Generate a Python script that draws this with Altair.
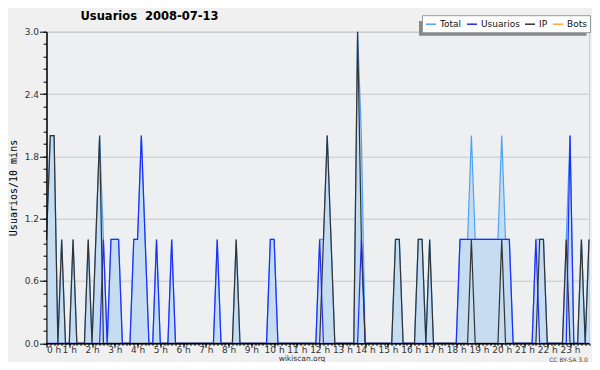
import altair as alt
import pandas as pd

# ---- data (10-minute bins, 0..143) ----
series_names = ["Total", "Usuarios", "IP", "Bots"]
series_colors = ["#4da3f5", "#1f2dff", "#333333", "#ffa633"]

total = [
    1, 2, 2, 0, 1, 0, 0, 1, 0, 0, 0, 1,
    0, 1, 2, 1, 0, 1, 1, 1, 0, 0, 0, 1,
    1, 2, 1, 0, 0, 1, 0, 0, 0, 1, 0, 0,
    0, 0, 0, 0, 0, 0, 0, 0, 0, 1, 0, 0,
    0, 0, 1, 0, 0, 0, 0, 0, 0, 0, 0, 1,
    1, 0, 0, 0, 0, 0, 0, 0, 0, 0, 0, 0,
    1, 1, 2, 1, 0, 0, 0, 0, 0, 0, 3, 2,
    0, 0, 0, 0, 0, 0, 0, 0, 1, 1, 0, 0,
    0, 0, 1, 1, 0, 1, 0, 0, 0, 0, 0, 0,
    0, 1, 1, 1, 2, 1, 1, 1, 1, 1, 1, 1,
    2, 1, 1, 0, 0, 0, 0, 0, 0, 1, 1, 1,
    0, 0, 0, 0, 0, 1, 2, 0, 0, 1, 0, 1,
]
usuarios = [
    0, 0, 0, 0, 0, 0, 0, 0, 0, 0, 0, 0,
    0, 0, 0, 1, 0, 1, 1, 1, 0, 0, 0, 1,
    1, 2, 1, 0, 0, 1, 0, 0, 0, 1, 0, 0,
    0, 0, 0, 0, 0, 0, 0, 0, 0, 1, 0, 0,
    0, 0, 0, 0, 0, 0, 0, 0, 0, 0, 0, 1,
    1, 0, 0, 0, 0, 0, 0, 0, 0, 0, 0, 0,
    1, 0, 0, 0, 0, 0, 0, 0, 0, 0, 0, 1,
    0, 0, 0, 0, 0, 0, 0, 0, 0, 0, 0, 0,
    0, 0, 0, 0, 0, 0, 0, 0, 0, 0, 0, 0,
    0, 1, 1, 1, 1, 1, 1, 1, 1, 1, 1, 1,
    1, 1, 1, 0, 0, 0, 0, 0, 0, 1, 0, 0,
    0, 0, 0, 0, 0, 0, 2, 0, 0, 0, 0, 0,
]
ip = [
    1, 2, 2, 0, 1, 0, 0, 1, 0, 0, 0, 1,
    0, 1, 2, 0, 0, 0, 0, 0, 0, 0, 0, 0,
    0, 0, 0, 0, 0, 0, 0, 0, 0, 0, 0, 0,
    0, 0, 0, 0, 0, 0, 0, 0, 0, 0, 0, 0,
    0, 0, 1, 0, 0, 0, 0, 0, 0, 0, 0, 0,
    0, 0, 0, 0, 0, 0, 0, 0, 0, 0, 0, 0,
    0, 1, 2, 1, 0, 0, 0, 0, 0, 0, 3, 1,
    0, 0, 0, 0, 0, 0, 0, 0, 1, 1, 0, 0,
    0, 0, 1, 1, 0, 1, 0, 0, 0, 0, 0, 0,
    0, 0, 0, 0, 1, 0, 0, 0, 0, 0, 0, 0,
    1, 0, 0, 0, 0, 0, 0, 0, 0, 0, 1, 1,
    0, 0, 0, 0, 0, 1, 0, 0, 0, 1, 0, 1,
]
bots = [0] * 144

bins = list(range(144))
hour_bins = list(range(0, 144, 6))
y_major = [0.0, 0.6, 1.2, 1.8, 2.4, 3.0]
y_minor = [0.0, 0.12, 0.24, 0.36, 0.48, 0.6, 0.72, 0.84, 0.96, 1.08, 1.2, 1.32,
           1.44, 1.56, 1.68, 1.8, 1.92, 2.04, 2.16, 2.28, 2.4, 2.52, 2.64, 2.76,
           2.88, 3.0]

title_text = "Usuarios\u00a0\u00a02008-07-13"
y_title = "Usuarios/10 mins"
x_title = "wikiscan.org"
credit = "CC BY-SA 3.0"

df = pd.DataFrame({
    "bin": bins * 4,
    "series": sum([[s] * 144 for s in series_names], []),
    "value": total + usuarios + ip + bots,
})

W, H = 542.5, 311.6
xs = alt.Scale(domain=[0, 143], nice=False, zero=False)
ys = alt.Scale(domain=[0, 3], nice=False)
color = alt.Color("series:N", scale=alt.Scale(domain=series_names, range=series_colors),
                  legend=alt.Legend(title=None, orient="none", legendX=375.5, legendY=-16.5,
                                    direction="horizontal", symbolType="stroke",
                                    symbolSize=100, symbolStrokeWidth=1.5,
                                    labelFont="DejaVu Sans", labelFontSize=9,
                                    labelColor="#111111", fillColor="#ffffff",
                                    strokeColor="#999999", padding=3,
                                    columnPadding=2, labelOffset=3, labelLimit=0))

minor_x_axis = alt.Axis(values=bins, labels=False, tickSize=2, grid=False, title=None,
                        orient="bottom", domainColor="#000000", tickColor="#000000",
                        zindex=1)
minor_y_axis = alt.Axis(values=y_minor, labels=False, tickSize=3.5, grid=False, title=None,
                        orient="left", domainColor="#000000", tickColor="#000000",
                        zindex=1)
main_x_axis = alt.Axis(values=hour_bins, labelExpr="format(datum.value / 6, 'd') + ' h'",
                       tickSize=4, grid=False, title=None, orient="bottom",
                       labelFont="DejaVu Sans", labelFontSize=9, labelColor="#333333",
                       labelPadding=-1.5, domainColor="#000000", tickColor="#000000",
                       labelOverlap=False, zindex=1)
main_y_axis = alt.Axis(values=y_major, format=".1f", tickSize=7, grid=True,
                       gridColor="#c8c8c8", title=None, orient="left",
                       labelFont="DejaVu Sans", labelFontSize=9, labelColor="#333333",
                       labelPadding=1, domainColor="#000000", tickColor="#000000")

bots_line = alt.Chart(df[df.series == "Bots"]).mark_line(strokeWidth=1.2).encode(
    x=alt.X("bin:Q", scale=xs, axis=None),
    y=alt.Y("value:Q", scale=ys, axis=None),
    color=color,
)
area = alt.Chart(df[df.series == "Total"]).mark_area(color="#c6dcf0", opacity=1).encode(
    x=alt.X("bin:Q", scale=xs, axis=minor_x_axis),
    y=alt.Y("value:Q", scale=ys, axis=minor_y_axis),
)

layers = [bots_line, area]
first = True
for s in ["Total", "Usuarios", "IP"]:
    ln = alt.Chart(df[df.series == s]).mark_line(strokeWidth=1.2).encode(
        x=alt.X("bin:Q", scale=xs, axis=main_x_axis if first else None),
        y=alt.Y("value:Q", scale=ys, axis=main_y_axis if first else None),
        color=color,
    )
    first = False
    layers.append(ln)

one = pd.DataFrame({"k": [0]})
shadow = alt.Chart(one).mark_rect(color="#888888").encode(
    x=alt.value(372.5), x2=alt.value(540), y=alt.value(-10.7), y2=alt.value(4))
title = alt.Chart(one).mark_text(align="left", baseline="middle", font="DejaVu Sans",
                                 fontWeight="bold", fontSize=11.5, color="#000000").encode(
    x=alt.value(34), y=alt.value(-14.7), text=alt.value(title_text))
ytitle = alt.Chart(one).mark_text(align="center", baseline="middle", angle=270,
                                  font="DejaVu Sans Mono", fontSize=10, color="#000000").encode(
    x=alt.value(-33), y=alt.value(156.3), text=alt.value(y_title))
xtitle = alt.Chart(one).mark_text(align="center", baseline="alphabetic", font="DejaVu Sans",
                                  fontSize=7.5, color="#333333").encode(
    x=alt.value(255.5), y=alt.value(329.6), text=alt.value(x_title))
cred = alt.Chart(one).mark_text(align="center", baseline="alphabetic", font="DejaVu Sans",
                                fontSize=6, color="#444444").encode(
    x=alt.value(522), y=alt.value(329.8), text=alt.value(credit))

chart = alt.layer(*layers, shadow, title, ytitle, xtitle, cred).resolve_axis(
    x="independent", y="independent"
).properties(
    width=W, height=H,
    autosize=alt.AutoSizeParams(type="none"),
    padding={"left": 38.5, "top": 23.7, "right": 3, "bottom": 18.7},
    background="#f0f0f0",
).configure_view(stroke="#cccccc", fill="#edeff1")

chart.save("out.html", embed_options={"renderer": "svg", "actions": False})
